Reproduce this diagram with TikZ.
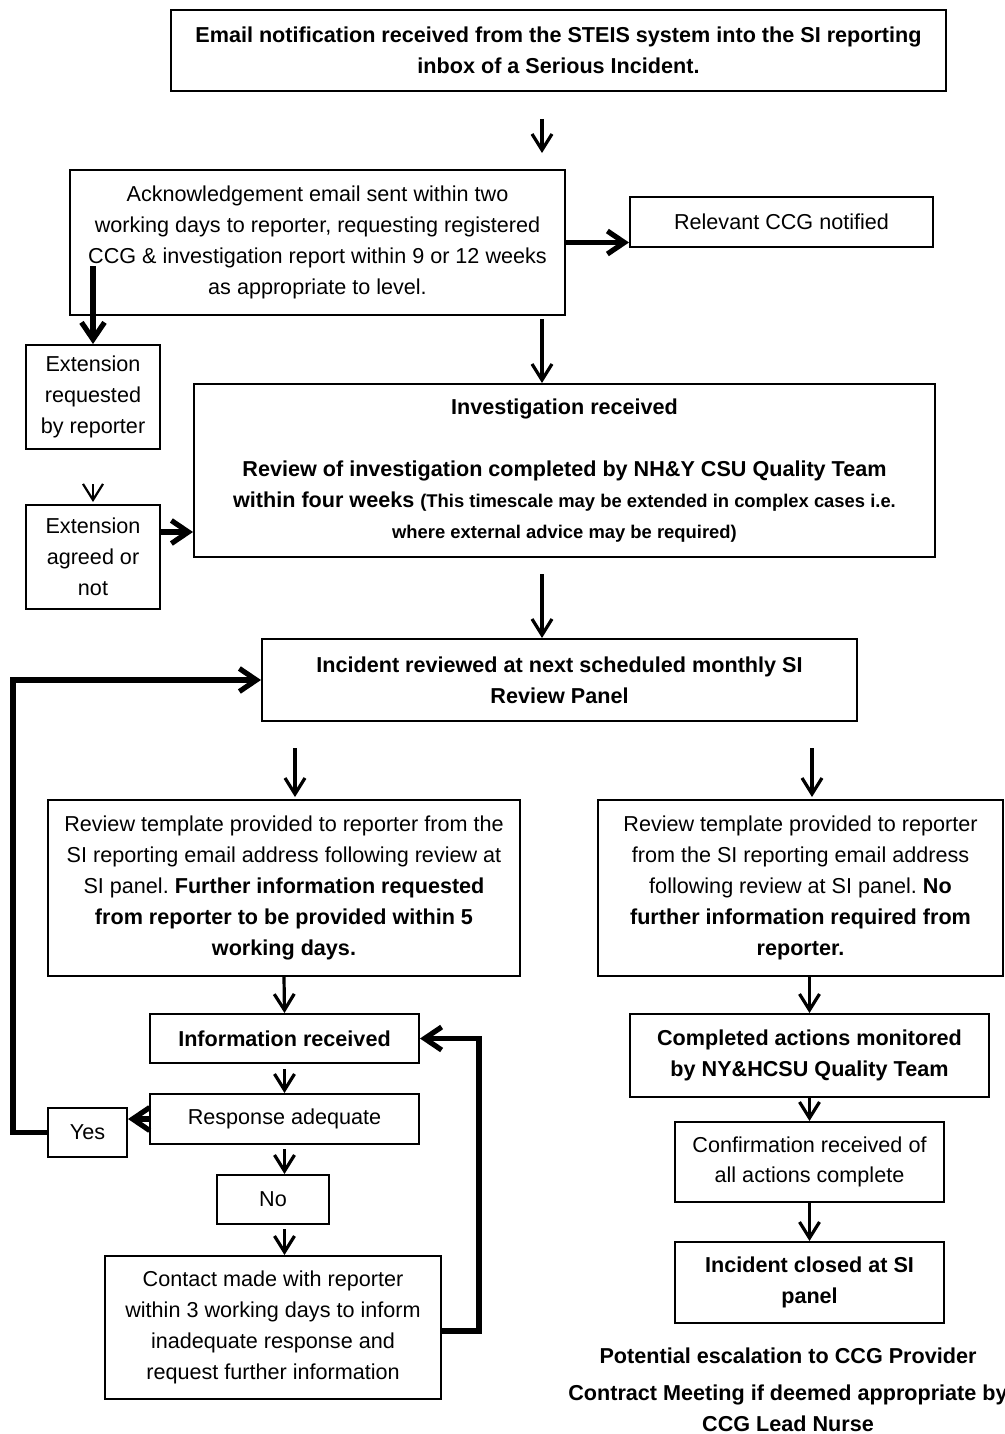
\documentclass[tikz,border=0pt]{standalone}
\usepackage{fontspec}
\setmainfont{Liberation Sans}
\usepackage{tikz}
\usetikzlibrary{arrows.meta}
\frenchspacing

\begin{document}
\begin{tikzpicture}[x=0.5pt, y=-0.5pt,
        box/.style={draw, line width=1pt, rectangle, align=center, inner sep=0pt,
            font=\fontsize{10.8}{15.4}\selectfont},
        bbox/.style={box, font=\fontsize{10.8}{15.4}\selectfont\bfseries},
        arr/.style={-{Straight Barb[length=8pt,width=10pt]}, line width=1.6pt},
        thinarr/.style={arr, line width=1.1pt},
        fatarr/.style={-{Straight Barb[length=8.5pt,width=11.5pt]}, line width=2.6pt}]
        \useasboundingbox (0,0) rectangle (1005,1434);
        \coordinate (spine) at (542,0);
        % Kaesten oben
        \node[bbox, minimum width=387.5pt, minimum height=40.5pt] (mail) at (558.5,50.5)
            {Email notification received from the STEIS system into the SI reporting\\inbox of a Serious Incident.};
        \node[box, minimum width=247.5pt, minimum height=72.5pt] (ack) at (317.5,242.5)
            {Acknowledgement email sent within two\\working days to reporter, requesting registered\\CCG \& investigation report within 9 or 12 weeks\\as appropriate to level.};
        \node[box, minimum width=151.5pt, minimum height=25pt] (ccg) at (781.5,222) {Relevant CCG notified};
        \node[box, minimum width=67pt, minimum height=52pt] (extreq) at (93,397) {Extension\\requested\\by reporter};
        \node[box, minimum width=67pt, minimum height=52pt] (extok) at (93,557) {Extension\\agreed or\\not};
        \node[bbox, minimum width=370.5pt, minimum height=86.5pt] (invest) at (564.5,470.5)
            {Investigation received\\[15.4pt]Review of investigation completed by NH\&Y CSU Quality Team\\within four weeks {\fontsize{9.2}{15.4}\selectfont (This timescale may be extended in complex cases i.e.}\\{\fontsize{9.2}{15.4}\selectfont where external advice may be required)}};
        \node[bbox, minimum width=297.5pt, minimum height=41pt] (panel) at (559.5,680)
            {Incident reviewed at next scheduled monthly SI\\Review Panel};
        % linker Zweig
        \node[box, minimum width=236pt, minimum height=88pt] (tplmore) at (284,888)
            {Review template provided to reporter from the\\SI reporting email address following review at\\SI panel. \textbf{Further information requested}\\\textbf{from reporter to be provided within 5}\\\textbf{working days.}};
        \node[bbox, minimum width=134.5pt, minimum height=24.5pt] (info) at (284.5,1038.5) {Information received};
        \node[box, minimum width=134.5pt, minimum height=25pt] (resp) at (284.5,1119) {Response adequate};
        \node[box, minimum width=39.5pt, minimum height=24.5pt] (yes) at (87.5,1132.5) {Yes};
        \node[box, minimum width=56pt, minimum height=24.5pt] (no) at (273,1199.5) {No};
        \node[box, minimum width=168pt, minimum height=71.5pt] (contact) at (273,1327.5)
            {Contact made with reporter\\within 3 working days to inform\\inadequate response and\\request further information};
        % rechter Zweig
        \node[box, minimum width=202.5pt, minimum height=88pt] (tplnone) at (800.5,888)
            {Review template provided to reporter\\from the SI reporting email address\\following review at SI panel. \textbf{No}\\\textbf{further information required from}\\\textbf{reporter.}};
        \node[bbox, minimum width=179.5pt, minimum height=41.5pt] (monitor) at (809.5,1055.5)
            {Completed actions monitored\\by NY\&HCSU Quality Team};
        \node[box, minimum width=134.5pt, minimum height=40pt] (confirm) at (809.5,1162)
            {Confirmation received of\\all actions complete};
        \node[bbox, minimum width=134.5pt, minimum height=40.5pt] (closed) at (809.5,1282.5)
            {Incident closed at SI\\panel};
        \node[align=center, inner sep=0pt, font=\fontsize{10.8}{15.4}\selectfont\bfseries] (escal) at (788,1390)
            {Potential escalation to CCG Provider\\[3pt]Contract Meeting if deemed appropriate by\\CCG Lead Nurse};
        % Pfeile
        \draw[arr, shorten <=13.5pt, shorten >=8pt] (mail.south -| spine) -- (ack.north -| spine);
        \draw[fatarr] (ack.east) -- (ack.east -| ccg.west);
        \draw[fatarr] ([yshift=25pt]ack.south west -| extreq.north) -- (extreq.north);
        \draw[arr, shorten <=1.5pt] (ack.south -| spine) -- (invest.north -| spine);
        \draw[thinarr, shorten <=17pt, shorten >=1pt] (extreq.south) -- (extok.north);
        \draw[fatarr] ([yshift=12.5pt]extok.east) -- ([yshift=12.5pt]extok.east -| invest.west);
        \draw[arr, shorten <=8pt] (invest.south -| spine) -- (panel.north -| spine);
        \draw[arr, shorten <=13pt, shorten >=1pt] ([xshift=5.5pt]tplmore.north |- panel.south) -- ([xshift=5.5pt]tplmore.north);
        \draw[arr, shorten <=13pt, shorten >=1pt] ([xshift=5.75pt]tplnone.north |- panel.south) -- ([xshift=5.75pt]tplnone.north);
        \draw[arr] (tplmore.south) -- (info.north);
        \draw[arr, shorten <=2.5pt] (info.south) -- (resp.north);
        \draw[fatarr] (resp.west) -- (resp.west -| yes.east);
        \draw[arr, shorten <=2pt] (resp.south) -- (resp.south |- no.north);
        \draw[arr, shorten <=2pt] (resp.south |- no.south) -- (resp.south |- contact.north);
        \draw[fatarr] (yes.west) -- ++(-34,0) |- (panel.west);
        \draw[fatarr] ([yshift=-1.75pt]contact.east) -- ++(37,0) |- (info.east);
        \draw[arr] (monitor.north |- tplnone.south) -- (monitor.north);
        \draw[arr] (monitor.south) -- (confirm.north);
        \draw[arr] (confirm.south) -- (closed.north);
\end{tikzpicture}
\end{document}
